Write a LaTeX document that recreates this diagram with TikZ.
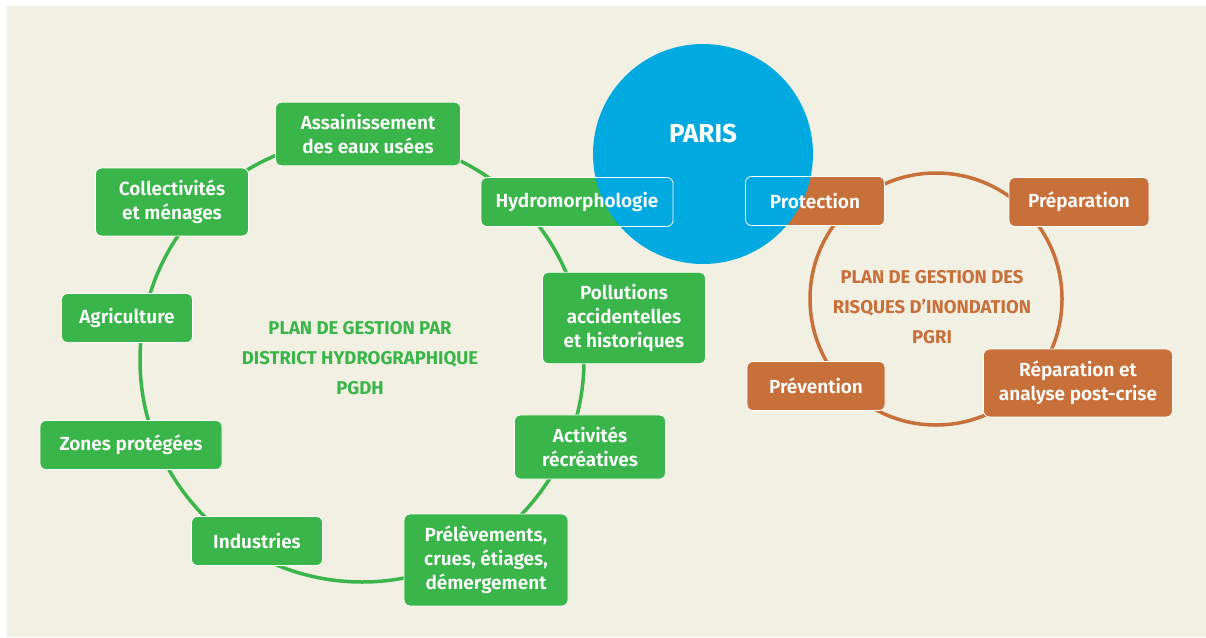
\documentclass[tikz,border=0pt]{standalone}
\usepackage{fontspec}
\setmainfont{Fira Sans}[BoldFont={Fira Sans SemiBold}]
\newfontface\heavyfont{Fira Sans Bold}
\usetikzlibrary{positioning}
\definecolor{bgcream}{HTML}{F2EFE3}
\definecolor{pgdhgreen}{HTML}{3AB54A}
\definecolor{pgriorange}{HTML}{C8703A}
\definecolor{parisblue}{HTML}{00A9E0}

\begin{document}
\begin{tikzpicture}[
    x=1pt, y=-1pt,
    ring/.style={circle, draw, line width=3.5pt, inner sep=0pt},
    gbox/.style={rectangle, rounded corners=6pt, fill=pgdhgreen, draw=white, line width=0.8pt, text=white, font=\bfseries\fontsize{19}{24}\selectfont, align=center, minimum height=49pt, inner ysep=12pt},
    obox/.style={gbox, fill=pgriorange},
    overparis/.style={path picture={\fill[parisblue] (paris.center) circle[radius=110pt];}},
    title/.style={font=\heavyfont\fontsize{18.5}{30}\selectfont, align=center},
  ]
    \useasboundingbox (0,0) rectangle (1206,637);
    \fill[white] (0,0) rectangle (1206,637);
    \fill[bgcream] (7,6) rectangle (1206,637);

    % rings and Paris
    \node[ring, draw=pgdhgreen, minimum size=444pt] (ringg) at (362,360) {};
    \node[ring, draw=pgriorange, minimum size=252pt] (ringo) at (936,299) {};
    \node[circle, fill=parisblue, minimum size=220pt, inner sep=0pt] (paris) at (703,154) {};
    \node[font=\heavyfont\fontsize{26}{30}\selectfont, text=white] (parislbl) at ([yshift=21pt]paris.center) {PARIS};

    % PGDH
    \node[title, text=pgdhgreen] (pgdh) at (360,358) {PLAN DE GESTION PAR\\DISTRICT HYDROGRAPHIQUE\\PGDH};
    \node[gbox, minimum width=185pt] (assain) at (368,134) {Assainissement\\des eaux usées};
    \node[gbox, minimum width=153pt] (collect) at (172,202) {Collectivités\\et ménages};
    \node[gbox, overparis, minimum width=192pt] (hydro) at (577,202) {Hydromorphologie};
    \node[gbox, minimum width=131pt] (agri) at (127,318) {Agriculture};
    \node[gbox, minimum width=163pt] (pollu) at (624,318) {Pollutions\\accidentelles\\et historiques};
    \node[gbox, minimum width=182pt] (zones) at (131,445) {Zones protégées};
    \node[gbox, minimum width=151pt] (activ) at (590,447) {Activités\\récréatives};
    \node[gbox, minimum width=131pt] (indus) at (257,541) {Industries};
    \node[gbox, minimum width=164pt] (prelev) at (486,560) {Prélèvements,\\crues, étiages,\\démergement};

    % PGRI
    \node[title, text=pgriorange] (pgri) at (932,307) {PLAN DE GESTION DES\\RISQUES D’INONDATION\\PGRI};
    \node[obox, overparis, minimum width=139pt] (protec) at (815,201) {Protection};
    \node[obox, minimum width=140pt] (prepa) at (1079,202) {Préparation};
    \node[obox, minimum width=138pt] (preven) at (816,386) {Prévention};
    \node[obox, minimum width=189pt] (repar) at (1078,383) {Réparation et\\analyse post-crise};
  \end{tikzpicture}
\end{document}
